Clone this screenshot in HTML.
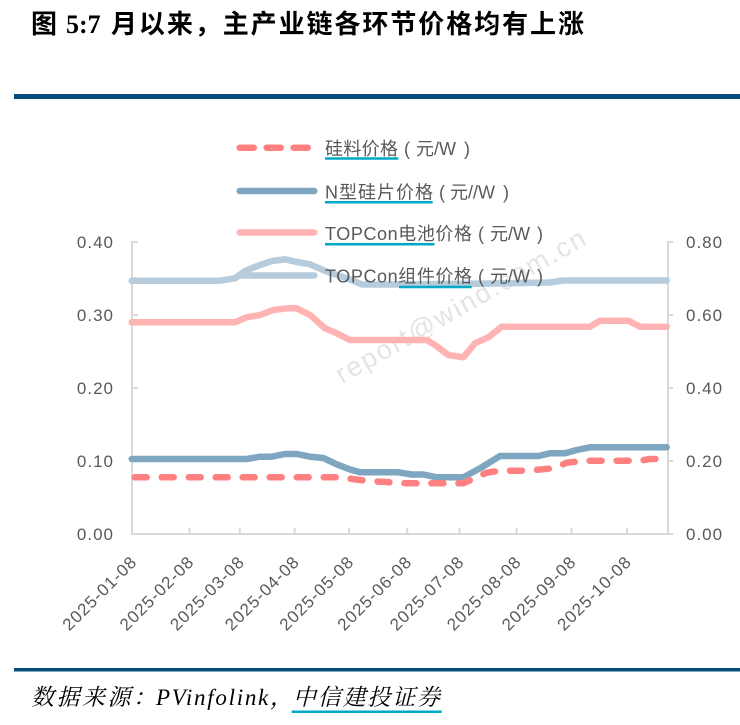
<!DOCTYPE html>
<html>
<head>
<meta charset="utf-8">
<style>
  html, body { margin:0; padding:0; background:#fff; }
  body { width:740px; height:725px; overflow:hidden; }
  svg { display:block; }
  .t { font-family:"Liberation Sans","Noto Sans CJK SC",sans-serif; }
</style>
</head>
<body>
<svg width="740" height="725" viewBox="0 0 740 725" xmlns="http://www.w3.org/2000/svg">
  <rect width="740" height="725" fill="#fff"/>

  <!-- Title -->
  <text x="31" y="33" font-family="'Noto Sans CJK SC',sans-serif" font-weight="bold" font-size="26" fill="#000">图</text>
  <text x="66" y="33" font-family="'Liberation Serif',serif" font-weight="bold" font-size="26" fill="#000">5:7</text>
  <text x="111" y="33" font-family="'Noto Sans CJK SC',sans-serif" font-weight="bold" font-size="26" fill="#000" textLength="473" lengthAdjust="spacing">月以来，主产业链各环节价格均有上涨</text>

  <!-- top rule -->
  <rect x="14" y="94" width="726" height="5" fill="#044d7a"/>

  <!-- watermark -->
  <text x="342" y="384" transform="rotate(-29.7 342 384)" font-family="'Liberation Sans',sans-serif" font-size="27" fill="#e4e4e4" textLength="283" lengthAdjust="spacing">report@wind.com.cn</text>

  <!-- axes -->
  <g stroke="#d9d9d9" stroke-width="2" fill="none">
    <line x1="132" y1="241" x2="132" y2="535"/>
    <line x1="668" y1="241" x2="668" y2="535"/>
    <line x1="131" y1="534" x2="669" y2="534"/>
    <line x1="132" y1="242" x2="138" y2="242"/>
    <line x1="132" y1="315" x2="138" y2="315"/>
    <line x1="132" y1="388" x2="138" y2="388"/>
    <line x1="132" y1="461" x2="138" y2="461"/>
    <line x1="668" y1="242" x2="673" y2="242"/>
    <line x1="668" y1="315" x2="673" y2="315"/>
    <line x1="668" y1="388" x2="673" y2="388"/>
    <line x1="668" y1="461" x2="673" y2="461"/>
    <line x1="668" y1="534" x2="673" y2="534"/>
    <line x1="189.4" y1="528" x2="189.4" y2="534"/>
    <line x1="239.8" y1="528" x2="239.8" y2="534"/>
    <line x1="294.7" y1="528" x2="294.7" y2="534"/>
    <line x1="349.2" y1="528" x2="349.2" y2="534"/>
    <line x1="407.2" y1="528" x2="407.2" y2="534"/>
    <line x1="459.5" y1="528" x2="459.5" y2="534"/>
    <line x1="516.6" y1="528" x2="516.6" y2="534"/>
    <line x1="571.5" y1="528" x2="571.5" y2="534"/>
    <line x1="626.9" y1="528" x2="626.9" y2="534"/>
  </g>

  <!-- left axis labels -->
  <g class="t" font-size="17" fill="#595959" text-anchor="end" letter-spacing="1">
    <text x="114" y="248">0.40</text>
    <text x="114" y="321">0.30</text>
    <text x="114" y="394">0.20</text>
    <text x="114" y="467">0.10</text>
    <text x="114" y="540">0.00</text>
  </g>
  <!-- right axis labels -->
  <g class="t" font-size="17" fill="#595959" letter-spacing="1">
    <text x="686" y="248">0.80</text>
    <text x="686" y="321">0.60</text>
    <text x="686" y="394">0.40</text>
    <text x="686" y="467">0.20</text>
    <text x="686" y="540">0.00</text>
  </g>

  <!-- x labels -->
  <g class="t" font-size="17" fill="#595959" text-anchor="end" letter-spacing="1">
    <text transform="translate(138,563) rotate(-45)">2025-01-08</text>
    <text transform="translate(195.2,563) rotate(-45)">2025-02-08</text>
    <text transform="translate(245.6,563) rotate(-45)">2025-03-08</text>
    <text transform="translate(300.5,563) rotate(-45)">2025-04-08</text>
    <text transform="translate(355,563) rotate(-45)">2025-05-08</text>
    <text transform="translate(413,563) rotate(-45)">2025-06-08</text>
    <text transform="translate(465.3,563) rotate(-45)">2025-07-08</text>
    <text transform="translate(522.4,563) rotate(-45)">2025-08-08</text>
    <text transform="translate(577.3,563) rotate(-45)">2025-09-08</text>
    <text transform="translate(632.7,563) rotate(-45)">2025-10-08</text>
  </g>

  <!-- series -->
  <g fill="none" stroke-width="6.5" stroke-linejoin="round" stroke-linecap="round">
    <polyline stroke="#b6cbdb" points="131.7,280.7 220,280.7 235,278.3 245,271 260,265 272,261 285,259.3 297,262 310,264.3 327,271.7 347,278.3 362,284.5 398,284.5 493,283.5 550,282.5 563,280.5 666.7,280.5"/>
    <polyline stroke="#ffb3b3" points="131.7,322.3 235,322.3 246.7,317.3 260,315 273.3,310 286.7,308.3 296.7,308.3 310,315 325,328.3 336.7,333.3 350,340 426.7,340 435,345 448.3,355 463.3,357.3 475,343.3 488.3,337.3 501.7,326.7 590,326.7 600,320.7 628.3,320.7 640,326.7 666.7,326.7"/>
    <polyline stroke="#7fa6c0" points="131.7,459 246.7,459 260,456.7 271.7,456.7 285,454 296.7,454 310,456.7 323.3,458 336.7,464.3 350,469.5 360,472.3 398.3,472.3 411.7,474.5 423.3,474.5 436.7,477.3 463.3,477.3 480,468.3 500,456 538.3,456 550,453.3 565,453.3 576.7,450 590,447.3 666.7,447.3"/>
    <polyline stroke="#ff8080" stroke-dasharray="12 15" points="134.7,477.3 340,477.3 360,480 380,481.7 406.7,483.3 463.3,483.3 486.7,472.7 500,470.7 526.7,470.7 540,469.5 553.3,468.3 566.7,462.7 586.7,460.7 640,460.7 650,459 666.7,459"/>
  </g>

  <!-- legend -->
  <g fill="none" stroke-width="6.5" stroke-linecap="round">
    <line x1="239.7" y1="147.7" x2="307.7" y2="147.7" stroke="#ff8080" stroke-dasharray="14 13"/>
    <line x1="239.7" y1="191" x2="314.3" y2="191" stroke="#7fa6c0"/>
    <line x1="239.7" y1="232.5" x2="314.3" y2="232.5" stroke="#ffb3b3"/>
    <line x1="239.7" y1="275.5" x2="314.3" y2="275.5" stroke="#b6cbdb"/>
  </g>
  <g class="t" font-size="18" fill="#595959">
    <text x="325" y="155" textLength="73" lengthAdjust="spacing">硅料价格</text>
    <text x="404" y="155">(</text>
    <text x="416" y="155">元/W</text>
    <text x="464" y="155">)</text>

    <text x="325" y="198.3" textLength="108" lengthAdjust="spacing">N型硅片价格</text>
    <text x="439" y="198.3">(</text>
    <text x="450" y="198.3">元//W</text>
    <text x="503" y="198.3">)</text>

    <text x="325" y="240" textLength="147" lengthAdjust="spacing">TOPCon电池价格</text>
    <text x="478" y="240">(</text>
    <text x="490" y="240">元/W</text>
    <text x="537" y="240">)</text>

    <text x="325" y="282.5" textLength="147" lengthAdjust="spacing">TOPCon组件价格</text>
    <text x="478" y="282.5">(</text>
    <text x="490" y="282.5">元/W</text>
    <text x="537" y="282.5">)</text>
  </g>
  <g stroke="#00a9c5" stroke-width="2.5">
    <line x1="325" y1="158.5" x2="398.3" y2="158.5"/>
    <line x1="325" y1="202.3" x2="432.7" y2="202.3"/>
    <line x1="325" y1="244.3" x2="434.5" y2="244.3"/>
    <line x1="399" y1="287" x2="471.7" y2="287"/>
  </g>

  <!-- bottom rule -->
  <rect x="14" y="668" width="726" height="3.5" fill="#044d7a"/>

  <!-- source -->
  <text x="31" y="705" font-family="'Liberation Serif','Noto Serif CJK SC',serif" font-style="italic" font-size="23" fill="#000" textLength="125" lengthAdjust="spacing">数据来源：</text>
  <text x="156" y="705" font-family="'Liberation Serif','Noto Serif CJK SC',serif" font-style="italic" font-size="23" fill="#000" textLength="137" lengthAdjust="spacing">PVinfolink，</text>
  <text x="293" y="705" font-family="'Liberation Serif','Noto Serif CJK SC',serif" font-style="italic" font-size="23" fill="#000" textLength="147" lengthAdjust="spacing">中信建投证券</text>
  <line x1="291.7" y1="711.7" x2="441.7" y2="711.7" stroke="#00a9c5" stroke-width="2.5"/>
</svg>
</body>
</html>
